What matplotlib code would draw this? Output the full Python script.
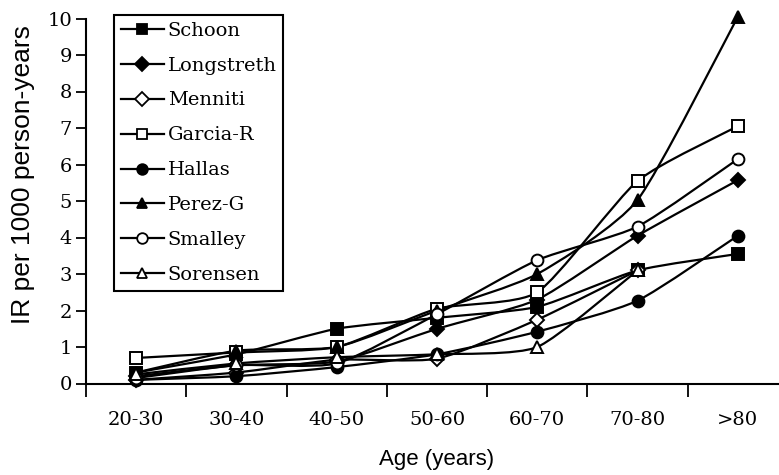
#!/usr/bin/env python3
import numpy as np
import matplotlib
matplotlib.use('Agg')
import matplotlib.pyplot as plt
from matplotlib.path import Path
from matplotlib.patches import PathPatch
from matplotlib.lines import Line2D

ages = ['20-30', '30-40', '40-50', '50-60', '60-70', '70-80', '>80']

schoon     = [0.30, 0.80, 1.50, 1.80, 2.10, 3.10, 3.55]
longstreth = [0.20, 0.50, 0.60, 1.50, 2.30, 4.05, 5.57]
menniti    = [0.10, 0.30, 0.65, 0.68, 1.75, 3.10, None]
garcia     = [0.70, 0.85, 1.00, 2.05, 2.50, 5.55, 7.05]
hallas     = [0.10, 0.20, 0.45, 0.80, 1.42, 2.27, 4.05]
perez      = [0.30, 0.90, 1.00, 2.00, 3.00, 5.03, 10.05]
smalley    = [0.15, 0.50, 0.55, 1.90, 3.38, 4.30, 6.15]
sorensen   = [0.25, 0.55, 0.72, 0.80, 1.00, 3.10, None]

series = [
    ('Schoon',     schoon,     's', 'k'),
    ('Longstreth', longstreth, 'D', 'k'),
    ('Menniti',    menniti,    'D', 'w'),
    ('Garcia-R',   garcia,     's', 'w'),
    ('Hallas',     hallas,     'o', 'k'),
    ('Perez-G',    perez,      '^', 'k'),
    ('Smalley',    smalley,    'o', 'w'),
    ('Sorensen',   sorensen,   '^', 'w'),
]

def smooth_path(x, y, k=10.0):
    # mildly smoothed line (cubic bezier, catmull-rom like tangents)
    P = np.column_stack([x, y])
    n = len(P)
    verts = [P[0]]
    codes = [Path.MOVETO]
    for i in range(n - 1):
        p0 = P[i - 1] if i > 0 else P[i]
        p1, p2 = P[i], P[i + 1]
        p3 = P[i + 2] if i + 2 < n else P[i + 1]
        c1 = p1 + (p2 - p0) / k
        c2 = p2 - (p3 - p1) / k
        verts += [c1, c2, p2]
        codes += [Path.CURVE4] * 3
    return Path(verts, codes)

W, H = 779, 475
fig = plt.figure(figsize=(W / 100, H / 100), dpi=100)
ax = fig.add_axes([86 / W, (H - 383.5) / H, 702 / W, 365 / H])

serif = ['DejaVu Serif']
handles = []
for name, vals, mk, fc in series:
    x = np.array([i for i, v in enumerate(vals) if v is not None], dtype=float)
    y = np.array([v for v in vals if v is not None], dtype=float)
    ax.add_patch(PathPatch(smooth_path(x, y), facecolor='none', edgecolor='k',
                           lw=1.6, clip_on=False, zorder=2))
    ms = 7.5 if mk == 'D' else 8.5
    ax.plot(x, y, ls='none', marker=mk, ms=ms, mfc=fc, mec='k', mew=1.4,
            clip_on=False, zorder=3)
    handles.append(Line2D([], [], color='k', lw=1.6, marker=mk, ms=ms * 0.9,
                          mfc=fc, mec='k', mew=1.3, label=name))

ax.set_xlim(-0.5, len(ages) - 0.5)
ax.set_ylim(0, 10)
for s in ['top', 'right']:
    ax.spines[s].set_visible(False)
for s in ['left', 'bottom']:
    ax.spines[s].set_linewidth(1.5)

ax.set_yticks(range(0, 11))
ax.set_yticklabels([str(v) for v in range(0, 11)], fontfamily=serif, fontsize=14)
ax.tick_params(axis='y', direction='out', length=7, width=1.3, pad=3)

ax.set_xticks(np.arange(-0.5, len(ages)))
ax.set_xticklabels([])
ax.tick_params(axis='x', which='major', direction='out', length=9, width=1.3)
ax.set_xticks(range(len(ages)), minor=True)
ax.set_xticklabels(ages, minor=True, fontfamily=serif, fontsize=14)
ax.tick_params(axis='x', which='minor', length=0, pad=20)

fig.text(437 / W, 1 - 460 / H, 'Age (years)', ha='center', va='center',
         fontfamily='Liberation Sans', fontsize=16)
fig.text(23 / W, 1 - 175 / H, 'IR per 1000 person-years', ha='center', va='center',
         rotation=90, fontfamily='Liberation Sans', fontsize=19)

leg = ax.legend(handles=handles, loc='upper left', bbox_to_anchor=(0.04, 1.01),
                prop={'family': serif, 'size': 14}, frameon=True, fancybox=False,
                edgecolor='k', framealpha=1, handlelength=2.2, handletextpad=0.2,
                labelspacing=0.87, borderpad=0.35, borderaxespad=0)
leg.get_frame().set_linewidth(1.5)

fig.savefig('out.png', dpi=100)
